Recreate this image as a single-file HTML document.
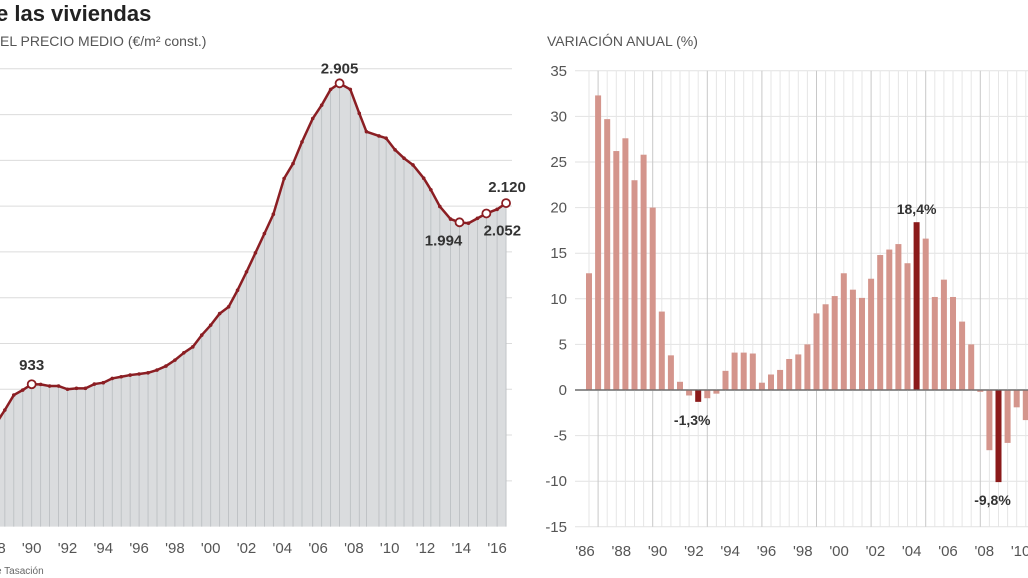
<!DOCTYPE html>
<html><head><meta charset="utf-8"><style>
html,body{margin:0;padding:0;background:#fff;width:1028px;height:578px;overflow:hidden;font-family:"Liberation Sans",sans-serif;}
</style></head><body>
<svg id="c" width="1028" height="578" viewBox="0 0 1028 578" xmlns="http://www.w3.org/2000/svg">
<text x="-4" y="21" font-size="22" font-weight="bold" fill="#222">e las viviendas</text>
<text x="0" y="46" font-size="14" fill="#555">EL PRECIO MEDIO (€/m² const.)</text>
<text x="547" y="46" font-size="14" fill="#555">VARIACIÓN ANUAL (%)</text>
<text x="-4" y="574" font-size="10" fill="#666">e Tasación</text>
<g id="left"></g><g id="right"></g>
</svg>
<script>
// Left chart data: average price €/m2
const priceYears=[1988.5,1989,1989.5,1990,1990.5,1991,1991.5,1992,1992.5,1993,1993.5,1994,1994.5,1995,1995.5,1996,1996.5,1997,1997.5,1998,1998.5,1999,1999.5,2000,2000.5,2001,2001.5,2002,2002.5,2003,2003.5,2004.1,2004.6,2005.1,2005.7,2006.2,2006.7,2007.2,2007.8,2008.3,2008.7,2009.4,2009.8,2010.3,2010.8,2011.3,2011.9,2012.3,2012.8,2013.4,2013.9,2014.4,2014.9,2015.4,2016,2016.5];
const priceValues=[764,862,895,933,932,921,921,900,906,906,934,943,971,982,993,1000,1008,1026,1052,1091,1139,1178,1255,1320,1396,1440,1549,1669,1794,1920,2047,2281,2379,2521,2674,2762,2865,2905,2865,2708,2588,2560,2545,2469,2414,2370,2283,2207,2098,2015,1994,1988,2020,2052,2079,2120];
const priceHighlights=[[1990,933,"933"],[2007.2,2905,"2.905"],[2013.9,1994,"1.994"],[2015.4,2052,"2.052"],[2016.5,2120,"2.120"]];
const leftTickYears=[1988,1990,1992,1994,1996,1998,2000,2002,2004,2006,2008,2010,2012,2014,2016];
const leftGridValues=[300,600,900,1200,1500,1800,2100,2400,2700,3000];
// Right chart data: annual variation %
const changeCategories=["86a","86b","87a","87b","88a","88b","89a","89b","90a","90b","91a","91b","92a","92b","93a","93b","94a","94b","95a","95b","96a","96b","97a","97b","98a","98b","99a","99b","00a","00b","01a","01b","02a","02b","03a","03b","04a","04b","05a","05b","06a","06b","07a","07b","08a","08b","09a","09b","10a"];
const changeValues=[12.8,32.3,29.7,26.2,27.6,23,25.8,20,8.6,3.8,0.9,-0.6,-1.3,-0.9,-0.4,2.1,4.1,4.1,4.0,0.8,1.7,2.2,3.4,3.9,5.0,8.4,9.4,10.3,12.8,11.0,10.1,12.2,14.8,15.4,16.0,13.9,18.4,16.6,10.2,12.1,10.2,7.5,5.0,-0.2,-6.6,-10.1,-5.8,-1.9,-3.3];
const changeHighlights=[[12,"-1,3%"],[36,"18,4%"],[45,"-9,8%"]];
const rightTicks=[35,30,25,20,15,10,5,0,-5,-10,-15];
const rightXLabels=["'86","'88","'90","'92","'94","'96","'98","'00","'02","'04","'06","'08","'10"];

const NS="http://www.w3.org/2000/svg";
function mk(p,tag,attrs){const e=document.createElementNS(NS,tag);for(const k in attrs)e.setAttribute(k,attrs[k]);p.appendChild(e);return e;}
const L=document.getElementById('left'),R=document.getElementById('right');
const lx=t=>31.7+(t-1990)*17.9, ly=v=>526.6-v*0.1526;
const RED="#8b1e23";
leftGridValues.forEach(v=>{const g=mk(L,'line',{x1:0,x2:512,y1:ly(v),y2:ly(v),stroke:'#dcdcdc','stroke-width':1});

});
let d='M'+lx(priceYears[0]-1)+','+ly(0)+' L'+lx(priceYears[0]-1)+','+ly(priceValues[0]-100);
priceYears.forEach((t,i)=>d+=' L'+lx(t)+','+ly(priceValues[i]));
d+=' L'+lx(priceYears[priceYears.length-1])+','+ly(0)+'Z';
const area=mk(L,'path',{d:d,fill:'#dadcde'});


priceYears.forEach((t,i)=>{const v=mk(L,'line',{x1:lx(t),x2:lx(t),y1:ly(priceValues[i]),y2:ly(0),stroke:'#b9bdc0','stroke-width':0.8});

});
let ld='M'+lx(priceYears[0]-0.6)+','+ly(priceValues[0]-110);
priceYears.forEach((t,i)=>ld+=' L'+lx(t)+','+ly(priceValues[i]));
const line=mk(L,'path',{d:ld,fill:'none',stroke:RED,'stroke-width':2.5,'stroke-linejoin':'round'});


priceYears.forEach((t,i)=>{const c=mk(L,'circle',{cx:lx(t),cy:ly(priceValues[i]),r:1.8,fill:RED});

});
const offs={"933":[0,-14],"2.905":[0,-10],"1.994":[-16,23],"2.052":[16,22],"2.120":[1,-11]};
priceHighlights.forEach(h=>{const c=mk(L,'circle',{cx:lx(h[0]),cy:ly(h[1]),r:4,fill:'#fff',stroke:RED,'stroke-width':1.8});


const o=offs[h[2]];const tx=mk(L,'text',{x:lx(h[0])+o[0],y:ly(h[1])+o[1],'font-size':15,'font-weight':'bold',fill:'#333','text-anchor':'middle'});tx.textContent=h[2];

});
leftTickYears.forEach(y=>{const tx=mk(L,'text',{x:lx(y),y:553,'font-size':15,fill:'#555','text-anchor':'middle'});tx.textContent="'"+String(y).slice(2);

});
const rx=i=>589+i*9.1, ry=v=>390-v*9.12;
rightTicks.forEach(v=>{const g=mk(R,'line',{x1:575,x2:1028,y1:ry(v),y2:ry(v),stroke:v===0?'#666':'#e2e2e2','stroke-width':v===0?1.2:1});


const tx=mk(R,'text',{x:567,y:ry(v)+5,'font-size':15,fill:'#555','text-anchor':'end'});tx.textContent=v;

});
changeCategories.forEach((c,i)=>{const g=mk(R,'line',{x1:rx(i),x2:rx(i),y1:ry(35),y2:ry(-15),stroke:(i%6===1)?'#c8c8c8':'#e6e6e6','stroke-width':1});

});
const dark=new Set(changeHighlights.map(h=>h[0]));
changeValues.forEach((v,i)=>{const y0=ry(Math.max(v,0)),y1=ry(Math.min(v,0));const b=mk(R,'rect',{x:rx(i)-3,y:y0,width:6,height:Math.max(y1-y0,1),fill:dark.has(i)?'#8b1a1a':'#d4958c'});

});
const zl=mk(R,'line',{x1:575,x2:1028,y1:ry(0),y2:ry(0),stroke:'#666','stroke-width':1.2});


changeHighlights.forEach(h=>{const v=changeValues[h[0]];const tx=mk(R,'text',{x:rx(h[0])+(v<0?-6:0),y:v>0?ry(v)-8:ry(v)+23,'font-size':14,'font-weight':'bold',fill:'#333','text-anchor':'middle'});tx.textContent=h[1];

});
rightXLabels.forEach((s,i)=>{const tx=mk(R,'text',{x:585+i*36.3,y:556,'font-size':15,fill:'#555','text-anchor':'middle'});tx.textContent=s;

});
</script>
</body></html>
